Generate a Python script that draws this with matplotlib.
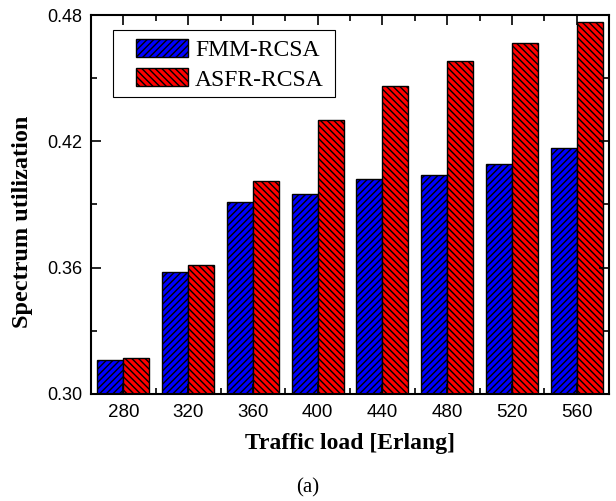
import matplotlib
matplotlib.use("Agg")
import matplotlib.pyplot as plt
import numpy as np
from matplotlib.ticker import MultipleLocator, FixedLocator
from matplotlib.patches import Rectangle

categories = ["280", "320", "360", "400", "440", "480", "520", "560"]
fmm = [0.3161, 0.3580, 0.3912, 0.3950, 0.4020, 0.4040, 0.4092, 0.4168]
asfr = [0.3171, 0.3613, 0.4012, 0.4300, 0.4463, 0.4582, 0.4667, 0.4767]
yticks = [0.30, 0.36, 0.42, 0.48]

plt.rcParams['hatch.linewidth'] = 1.0
fig = plt.figure(figsize=(6.16, 5.01), dpi=100)
ax = fig.add_axes([91/616, 107/501, 518/616, 379/501])

x = np.arange(len(categories))
w = 0.4
ax.bar(x - w/2, fmm, w, color="#0000FF", edgecolor="black", linewidth=1.0,
       hatch="/////", label="FMM-RCSA")
ax.bar(x + w/2, asfr, w, color="#FF0000", edgecolor="black", linewidth=1.0,
       hatch="\\\\\\\\\\", label="ASFR-RCSA")

ax.set_xlim(-0.5, 7.5)
ax.set_ylim(0.30, 0.48)
ax.set_yticks(yticks)
ax.set_yticklabels([f"{v:.2f}" for v in yticks])
ax.yaxis.set_minor_locator(MultipleLocator(0.03))
ax.set_xticks(x)
ax.set_xticklabels(categories)
ax.xaxis.set_minor_locator(FixedLocator(x + 0.5))

for lab in ax.get_xticklabels() + ax.get_yticklabels():
    lab.set_fontfamily("Liberation Sans")
ax.tick_params(axis="x", labelsize=13.5)
ax.tick_params(axis="y", labelsize=13)
ax.tick_params(which="both", direction="in", top=True, right=True, width=1.2)
ax.tick_params(which="major", length=7)
ax.tick_params(which="minor", length=4)
ax.tick_params(axis="x", which="major", pad=7)
ax.tick_params(axis="y", which="major", pad=6.5)
for s in ax.spines.values():
    s.set_linewidth(1.5)

ax.set_xlabel("Traffic load [Erlang]", fontfamily="Liberation Serif",
              fontweight="bold", fontsize=17, labelpad=9)
ax.set_ylabel("Spectrum utilization", fontfamily="Liberation Serif",
              fontweight="bold", fontsize=17.5)

def px2ax(px, py):
    return (px - 91) / 518, (394 - py) / 379

ax.yaxis.set_label_coords(*px2ax(33, 222))

# legend frame drawn as rectangle for exact padding
x0, y0 = px2ax(113, 97)
x1, y1 = px2ax(335, 30)
ax.add_patch(Rectangle((x0, y0), x1 - x0, y1 - y0, transform=ax.transAxes,
                       facecolor="white", edgecolor="black", linewidth=0.8,
                       zorder=4, clip_on=False))
leg = ax.legend(loc="upper left", bbox_to_anchor=px2ax(136, 39),
                borderaxespad=0, frameon=False, borderpad=0,
                prop={"family": "Liberation Serif", "size": 17},
                handlelength=52/23.6, handleheight=19/23.6, handletextpad=0.3,
                labelspacing=0.3)
leg.set_zorder(5)

fig.text(308/616, 1 - 488/501, "(a)", ha="center", va="center",
         fontfamily="Liberation Serif", fontsize=15)

fig.savefig("out.png", dpi=100)
